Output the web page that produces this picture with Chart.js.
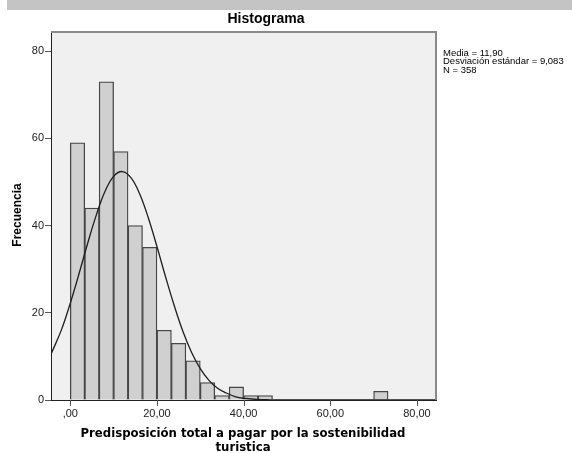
<!DOCTYPE html>
<html>
<head>
<meta charset="utf-8">
<script src="https://cdn.jsdelivr.net/npm/chart.js@4.4.1/dist/chart.umd.min.js"></script>
<style>
  html, body { margin: 0; padding: 0; background: #fff; }
  #wrap { width: 572px; height: 453px; position: relative; }
</style>
</head>
<body>
<div id="wrap"><canvas id="chart"></canvas></div>
<script>
// histogram bins (width 3,333), midpoints and counts
const binMids = [1.667, 5, 8.333, 11.667, 15, 18.333, 21.667, 25, 28.333, 31.667, 35, 38.333,
  41.667, 45, 48.333, 51.667, 55, 58.333, 61.667, 65, 68.333, 71.667];
const binCounts = [59, 44, 73, 57, 40, 35, 16, 13, 9, 4, 1, 3, 1, 1, 0, 0, 0, 0, 0, 0, 0, 2];

// normal curve
const curveX = [-4.45, -2, 0, 2, 4, 6, 8, 10, 12, 14, 16, 18, 20, 22, 24, 26, 28, 30, 32, 34, 36, 38, 40, 43, 46, 50, 60, 70, 84.4];
const curveY = [10.5, 16.2, 22.2, 28.9, 35.9, 42.4, 47.8, 51.3, 52.4, 51.0, 47.3, 41.8, 35.2, 28.2, 21.6, 15.7, 10.9, 7.2, 4.5, 2.7, 1.6, 0.8, 0.4, 0.15, 0.05, 0, 0, 0, 0];

const xTicks = [0, 20, 40, 60, 80];
const xTickLabels = [',00', '20,00', '40,00', '60,00', '80,00'];
const yTicks = [0, 20, 40, 60, 80];

const statLines = ['Media = 11,90', 'Desviación estándar = 9,083', 'N = 358'];

const sans = '"Liberation Sans", Arial, sans-serif';

const decor = {
  id: 'decor',
  beforeDraw(chart) {
    const {ctx, chartArea: a} = chart;
    ctx.save();
    ctx.fillStyle = '#c4c4c4';
    ctx.fillRect(7, 0, 565, 10);
    ctx.fillStyle = '#f0f0f0';
    ctx.fillRect(a.left, a.top, a.right - a.left, a.bottom - a.top);
    ctx.restore();
  },
  afterDraw(chart) {
    const {ctx, chartArea: a} = chart;
    const xs = chart.scales.x;
    ctx.save();
    ctx.strokeStyle = '#8a8a8a';
    ctx.lineWidth = 2;
    ctx.beginPath();
    ctx.moveTo(a.left, a.top);
    ctx.lineTo(a.right, a.top);
    ctx.lineTo(a.right, a.bottom);
    ctx.stroke();

    // x tick marks under the axis
    ctx.strokeStyle = '#555';
    ctx.lineWidth = 1;
    ctx.beginPath();
    xTicks.forEach(v => {
      const px = Math.round(xs.getPixelForValue(v)) + 0.5;
      ctx.moveTo(px, a.bottom);
      ctx.lineTo(px, a.bottom + 6);
    });
    ctx.stroke();

    ctx.fillStyle = '#000';
    ctx.textAlign = 'center';
    ctx.textBaseline = 'middle';
    ctx.font = 'bold 14px ' + sans;
    ctx.fillText('Histograma', 266, 19);

    ctx.font = 'bold 13px "DejaVu Sans Condensed", "DejaVu Sans", sans-serif';
    ctx.fillText('Predisposición total a pagar por la sostenibilidad', 243, 434);
    ctx.fillText('turistica', 243, 448);

    ctx.save();
    ctx.translate(18, 215);
    ctx.rotate(-Math.PI / 2);
    ctx.font = 'bold 12px ' + sans;
    ctx.fillText('Frecuencia', 0, 0);
    ctx.restore();

    ctx.textAlign = 'left';
    ctx.font = '9.5px ' + sans;
    statLines.forEach((t, i) => ctx.fillText(t, 443, 53 + i * 8.6));
    ctx.restore();
  }
};

const ctx = document.getElementById('chart').getContext('2d');
// eslint-disable-next-line no-undef
new Chart(ctx, {
  type: 'bar',
  data: {
    datasets: [
      {
        type: 'line',
        data: curveX.map((x, i) => ({x: x, y: curveY[i]})),
        borderColor: '#1e1e1e',
        borderWidth: 1.3,
        pointRadius: 0,
        tension: 0.4,
        fill: false,
        order: 0,
      },
      {
        type: 'bar',
        data: binMids.map((x, i) => ({x: x, y: binCounts[i]})),
        backgroundColor: '#d0d0d0',
        borderColor: '#454545',
        borderWidth: (c) => (c.raw && c.raw.y === 0 ? 0 : 1.3),
        borderSkipped: 'bottom',
        barPercentage: 1,
        categoryPercentage: 1,
        grouped: false,
        order: 1,
      },
    ]
  },
  options: {
    responsive: true,
    maintainAspectRatio: false,
    animation: false,
    layout: {padding: {top: 32, right: 136, left: 0, bottom: 0}},
    plugins: {legend: {display: false}, title: {display: false}, tooltip: {enabled: false}},
    scales: {
      x: {
        type: 'linear',
        offset: false,
        min: -4.45,
        max: 84.4,
        afterBuildTicks: (s) => { s.ticks = xTicks.map(v => ({value: v})); },
        afterFit: (s) => { s.height = 53; },
        ticks: {
          autoSkip: false,
          maxRotation: 0,
          padding: 2,
          color: '#222',
          font: {family: sans, size: 11},
          callback: (v) => xTickLabels[xTicks.indexOf(v)],
        },
        grid: {offset: false, drawOnChartArea: false, drawTicks: true, tickLength: 5, color: 'rgba(0,0,0,0)'},
        border: {color: '#222', width: 1},
      },
      y: {
        min: 0,
        max: 84.4,
        afterBuildTicks: (s) => { s.ticks = yTicks.map(v => ({value: v})); },
        afterFit: (s) => { s.width = 51; },
        ticks: {
          padding: 1,
          color: '#222',
          font: {family: sans, size: 11},
        },
        grid: {drawOnChartArea: false, drawTicks: true, tickLength: 6, color: '#555'},
        border: {color: '#222', width: 1},
      }
    }
  },
  plugins: [decor]
});
</script>
</body>
</html>
